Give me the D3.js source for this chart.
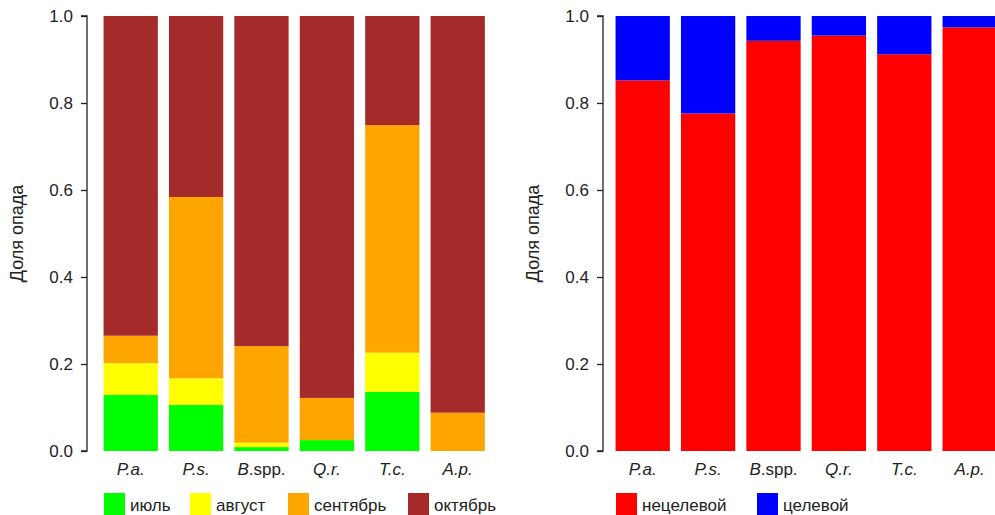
<!DOCTYPE html>
<html><head><meta charset="utf-8">
<script src="https://cdn.jsdelivr.net/npm/d3@7"></script>
<style>body{margin:0;background:#fff}svg{display:block}text{font-family:"Liberation Sans",Arial,sans-serif;fill:#222}</style>
</head><body><svg id="c" width="995" height="515"></svg>
<script>
const species = [["P",".a."],["P",".s."],["B",".spp."],["Q",".r."],["T",".c."],["A",".p."]];
const months = ["июль","август","сентябрь","октябрь"];
const monthColors = ["#00ff00","#ffff00","#ffa500","#a52a2a"];
const julyShare  = [0.129,0.106,0.009,0.025,0.136,0.000];
const augShare   = [0.073,0.061,0.010,0.000,0.090,0.000];
const sepShare   = [0.063,0.417,0.222,0.097,0.523,0.088];
const octShare   = julyShare.map((v,i)=>+(1-v-augShare[i]-sepShare[i]).toFixed(3));
const types = ["нецелевой","целевой"];
const typeColors = ["#ff0000","#0000ff"];
const nonTarget = [0.852,0.776,0.943,0.955,0.912,0.974];
const target = nonTarget.map(v=>+(1-v).toFixed(3));
const yTicks = [0,0.2,0.4,0.6,0.8,1.0];

const svg = d3.select("#c");
const y = d3.scaleLinear().domain([0,1]).range([451,16]);
const FS = "17px";

function panel(x0, axisX, seriesArr, colors, names, legendX){
  const keys = species.map((s,i)=>i);
  const x = d3.scaleBand().domain(keys).range([x0, x0+6*65.4]).paddingInner(0.17).paddingOuter(0.085);
  const g = svg.append("g");
  const rows = keys.map(i=>{const r={i}; seriesArr.forEach((s,k)=>r[k]=s[i]); return r;});
  const stack = d3.stack().keys(seriesArr.map((s,k)=>k))(rows);
  stack.forEach((layer,k)=>{
    g.selectAll(null).data(layer).enter().append("rect")
      .attr("x",d=>x(d.data.i)).attr("width",x.bandwidth())
      .attr("y",d=>y(d[1])).attr("height",d=>Math.max(0,y(d[0])-y(d[1])))
      .attr("fill",colors[k]);
  });
  const ax = g.append("g").attr("transform",`translate(${axisX},0)`)
    .call(d3.axisLeft(y).tickValues(yTicks).tickFormat(d3.format(".1f")).tickSize(6).tickPadding(8));
  ax.select(".domain").attr("stroke","#222").attr("stroke-width",1.3).attr("d",`M-6,${y(1)}H0V${y(0)}H-6`);
  ax.selectAll(".tick line").attr("stroke","#222").attr("stroke-width",1.3);
  ax.selectAll(".tick text").style("font-size",FS).attr("fill","#222");
  g.append("text").attr("transform",`translate(${axisX-64},${(y(0)+y(1))/2}) rotate(-90)`)
    .attr("text-anchor","middle").style("font-size","18px").text("Доля опада");
  keys.forEach(i=>{
    const t = g.append("text").attr("x",x(i)+x.bandwidth()/2).attr("y",475)
      .attr("text-anchor","middle").style("font-size",FS);
    if(i===2){
      t.append("tspan").attr("font-style","italic").text(species[i][0]);
      t.append("tspan").text(species[i][1]);
    } else {
      t.attr("font-style","italic").text(species[i][0]+species[i][1]);
    }
  });
  names.forEach((n,k)=>{
    const lx = legendX[k];
    g.append("rect").attr("x",lx).attr("y",493).attr("width",21).attr("height",22).attr("fill",colors[k]);
    g.append("text").attr("x",lx+26).attr("y",511).style("font-size",FS).text(n);
  });
}
panel(98, 87, [julyShare,augShare,sepShare,octShare], monthColors, months, [104,190,288,408]);
panel(610, 603, [nonTarget,target], typeColors, types, [616,757]);
</script></body></html>
